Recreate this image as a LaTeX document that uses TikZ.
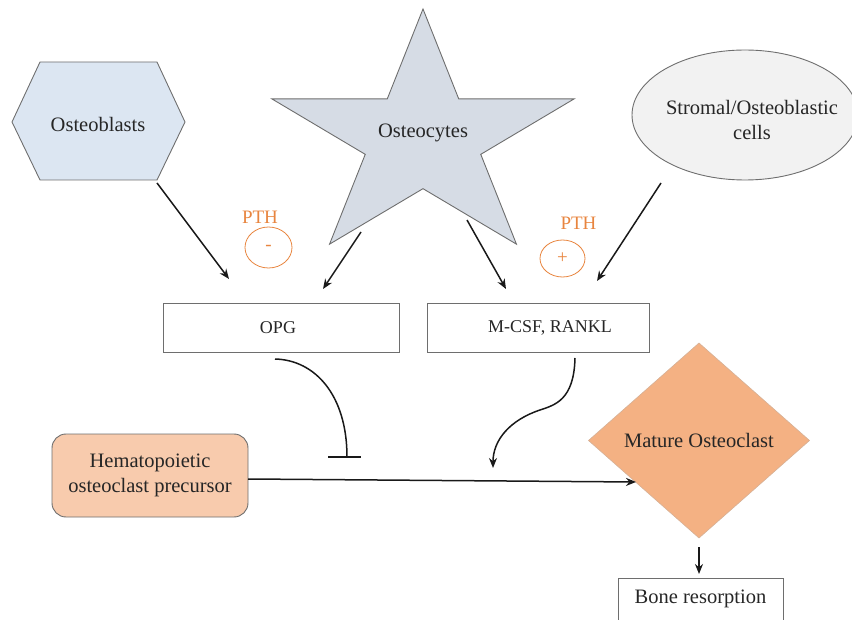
\documentclass[tikz,border=0pt]{standalone}
\usepackage{fontspec}
\setmainfont{Liberation Serif}
\newfontfamily\tnr{Liberation Serif}
\usetikzlibrary{shapes.geometric,arrows.meta}
\definecolor{txt}{HTML}{262626}
\definecolor{hexfill}{HTML}{DCE6F2}
\definecolor{starfill}{HTML}{D6DCE5}
\definecolor{ellfill}{HTML}{F2F2F2}
\definecolor{hemfill}{HTML}{F8CBAD}
\definecolor{diafill}{HTML}{F4B183}
\definecolor{pth}{HTML}{E8853F}
\definecolor{edge}{HTML}{6E6E6E}
\tikzset{
  big/.style={font=\tnr\fontsize{20.5}{25}\selectfont, text=txt, align=center},
  small/.style={font=\tnr\fontsize{18}{22}\selectfont, text=txt},
  pthtext/.style={font=\tnr\fontsize{19}{22}\selectfont, text=pth},
  pthcirc/.style={draw=pth, line width=0.8pt, ellipse, inner sep=0pt, font=\tnr\fontsize{19}{22}\selectfont, text=pth},
  shapeedge/.style={draw=edge, line width=0.9pt},
  boxnode/.style={draw=edge, line width=0.9pt, rectangle, inner sep=0pt},
  arr/.style={draw=black!90, line width=1.5pt, -{Stealth[length=10pt,width=8pt]}},
}
\begin{document}
\begin{tikzpicture}[x=1pt,y=-1pt]
\useasboundingbox (0,0) rectangle (852,620);

% Osteoblasts hexagon
\path[shapeedge, fill=hexfill] (12,122) -- (40,62) -- (157,62) -- (185,122) -- (157,180) -- (40,180) -- cycle;
\node[big] (ob) at (98,124) {Osteoblasts};

% Osteocytes star
\begin{scope}[shift={(423,139)}, x=159pt, y=130pt]
\path[shapeedge, fill=starfill] (90:1) -- (126:0.382) -- (162:1) -- (198:0.382) -- (234:1) -- (270:0.382) -- (306:1) -- (342:0.382) -- (18:1) -- (54:0.382) -- cycle;
\end{scope}
\node[big] (oc) at (423,133) {Osteocytes};

% Stromal ellipse
\node[shapeedge, fill=ellfill, ellipse, minimum width=226pt, minimum height=130pt, inner sep=0pt] (st) at (745,115) {};
\node[big] (sttext) at (752,120) {Stromal/Osteoblastic\\cells};

% PTH labels
\node[pthtext] (pthl) at (260,217) {PTH};
\node[pthcirc, minimum width=47pt, minimum height=41pt] (minus) at (268.5,247.5) {-};
\node[pthtext] (pthr) at (578.5,223) {PTH};
\node[pthcirc, minimum width=45pt, minimum height=37pt] (plus) at (562.5,258.5) {+};

% Boxes
\node[boxnode, minimum width=236pt, minimum height=49pt] (opg) at (281,327.5) {};
\node[small] (opgtext) at (278,327.5) {OPG};
\node[boxnode, minimum width=222pt, minimum height=49pt] (rankl) at (538,327.5) {};
\node[small] (rankltext) at (550,327.5) {M-CSF, RANKL};

% Hematopoietic
\node[draw=edge, line width=0.9pt, fill=hemfill, rounded corners=14pt, minimum width=196pt, minimum height=83pt, inner sep=0pt, big] (hem) at (150,475.5) {Hematopoietic\\osteoclast precursor};

% Mature osteoclast diamond
\node[diamond, draw=diafill!80!black!70, line width=0.6pt, fill=diafill, minimum width=221pt, minimum height=195pt, inner sep=0pt, outer sep=0pt] (mo) at (699,440.5) {};
\node[big] (motext) at (699,440) {Mature Osteoclast};

% Bone resorption (box runs off the bottom edge)
\draw[edge, line width=0.9pt] (618,621) -- (618,578) -- (783,578) -- (783,621);
\node[big] (bone) at (700.5,599) {Bone resorption};

% Arrow end points
\coordinate (a1s) at (157,183);
\coordinate (a1e) at (229,279);
\coordinate (a2s) at (361,232);
\coordinate (a2e) at (323,289);
\coordinate (a3s) at (467,220);
\coordinate (a3e) at (506,289);
\coordinate (a4s) at (661,183);
\coordinate (a4e) at (597,281);
\coordinate (c1s) at (275,359);
\coordinate (c1e) at (347,457);
\coordinate (barl) at (328,457);
\coordinate (barr) at (361,457);
\coordinate (c2s) at (575,358);
\coordinate (c2m) at (540,410);
\coordinate (c2e) at (493,468);
\coordinate (h1) at (248,479);
\coordinate (h2) at (636,482);
\coordinate (b1) at (699,547);
\coordinate (b2) at (699,574);

\draw[arr] (a1s) -- (a1e);
\draw[arr] (a2s) -- (a2e);
\draw[arr] (a3s) -- (a3e);
\draw[arr] (a4s) -- (a4e);

% OPG inhibition
\draw[black!90, line width=1.5pt] (c1s) .. controls (315,360) and (347,395) .. (c1e);
\draw[black!90, line width=1.5pt] (barl) -- (barr);

% RANKL activation
\draw[arr] (c2s) .. controls (574,400) and (555,405) .. (c2m) .. controls (510,420) and (493,440) .. (c2e);

% Precursor to mature osteoclast
\draw[arr] (h1) -- (h2);

% Mature osteoclast to bone resorption
\draw[arr] (b1) -- (b2);
\end{tikzpicture}
\end{document}
